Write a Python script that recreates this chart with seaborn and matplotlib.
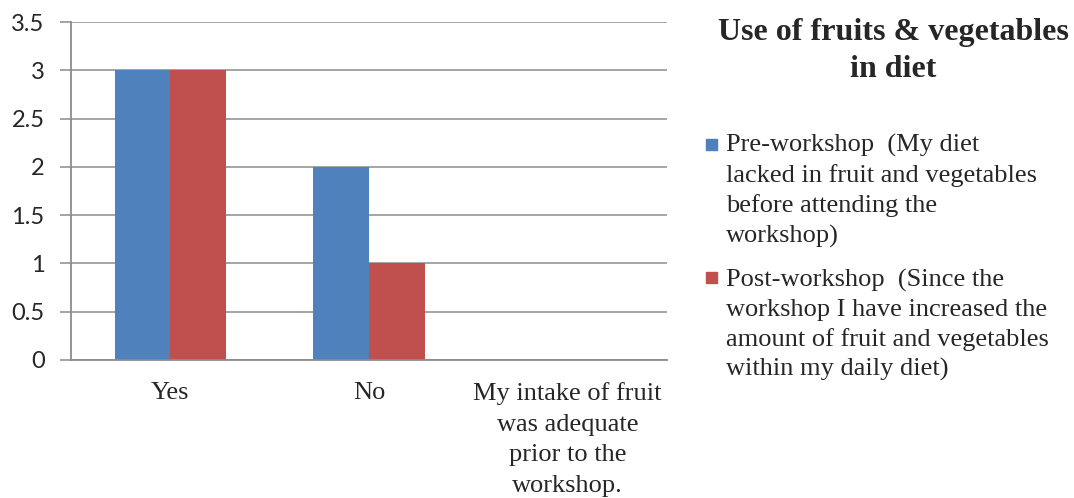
import matplotlib
matplotlib.use("Agg")
import matplotlib.pyplot as plt
from matplotlib.patches import Rectangle
import seaborn as sns
import pandas as pd

# Survey responses
categories = ["Yes", "No", "My intake of fruit\nwas adequate\nprior to the\nworkshop."]
pre_workshop = [3, 2, 0]
post_workshop = [3, 1, 0]
series_names = [
    "Pre-workshop  (My diet\nlacked in fruit and vegetables\nbefore attending the\nworkshop)",
    "Post-workshop  (Since the\nworkshop I have increased the\namount of fruit and vegetables\nwithin my daily diet)",
]
series_colors = ["#4F81BD", "#C0504D"]
y_ticks = [0, 0.5, 1, 1.5, 2, 2.5, 3, 3.5]
title = "Use of fruits & vegetables\nin diet"

df = pd.DataFrame({
    "category": categories * 2,
    "value": pre_workshop + post_workshop,
    "series": [series_names[0]] * 3 + [series_names[1]] * 3,
})

sns.set_theme(style="white")
serif = ["Liberation Serif", "DejaVu Serif"]
sans = ["Lato", "DejaVu Sans"]

W, H = 1074, 498
fig = plt.figure(figsize=(W / 100, H / 100), dpi=100)
ax = fig.add_axes([71 / W, 1 - 360 / H, (667 - 71) / W, (360 - 22) / H])

sns.barplot(data=df, x="category", y="value", hue="series", order=categories,
            hue_order=series_names, palette=series_colors,
            width=0.56, saturation=1, ax=ax, legend=False)

ax.set_xlim(-0.5, 2.5)
ax.set_ylim(0, 3.5)
ax.set_yticks(y_ticks)
ax.set_yticklabels([f"{t:g}" for t in y_ticks], family=sans, fontsize=17)
ax.yaxis.grid(True, color="#8C8C8C", linewidth=1.1)
ax.set_axisbelow(True)
ax.set_xlabel("")
ax.set_ylabel("")

# Category labels centred, tick marks between categories
ax.set_xticks([0, 1, 2])
ax.set_xticklabels(categories, family=serif, fontsize=19, linespacing=1.5)
ax.tick_params(axis="x", length=0, pad=16)
ax.set_xticks([-0.5, 0.5, 1.5, 2.5], minor=True)
ax.tick_params(axis="x", which="minor", length=7, width=1.1, color="#8C8C8C", direction="out")
ax.tick_params(axis="y", length=8, width=1.1, color="#8C8C8C", direction="out", pad=11, left=True)

for side in ("top", "right"):
    ax.spines[side].set_visible(False)
for side in ("left", "bottom"):
    ax.spines[side].set_color("#8C8C8C")
    ax.spines[side].set_linewidth(1.3)

for bar in ax.patches:
    bar.set_edgecolor("none")

# Legend: square swatch aligned with the first line of each wrapped label
legend_tops = [134, 269]
swatch_tops = [139, 272]
for name, color, top, stop in zip(series_names, series_colors, legend_tops, swatch_tops):
    fig.add_artist(Rectangle((706 / W, 1 - (stop + 11) / H), 11 / W, 11 / H,
                             transform=fig.transFigure, color=color))
    fig.text(726 / W, 1 - top / H, name, ha="left", va="top",
             family=serif, fontsize=19, linespacing=1.4)

fig.text(893 / W, 1 - 18 / H, title, ha="center", va="top",
         family=serif, fontweight="bold", fontsize=23, linespacing=1.35)

fig.savefig("out.png", dpi=100, facecolor="white")
